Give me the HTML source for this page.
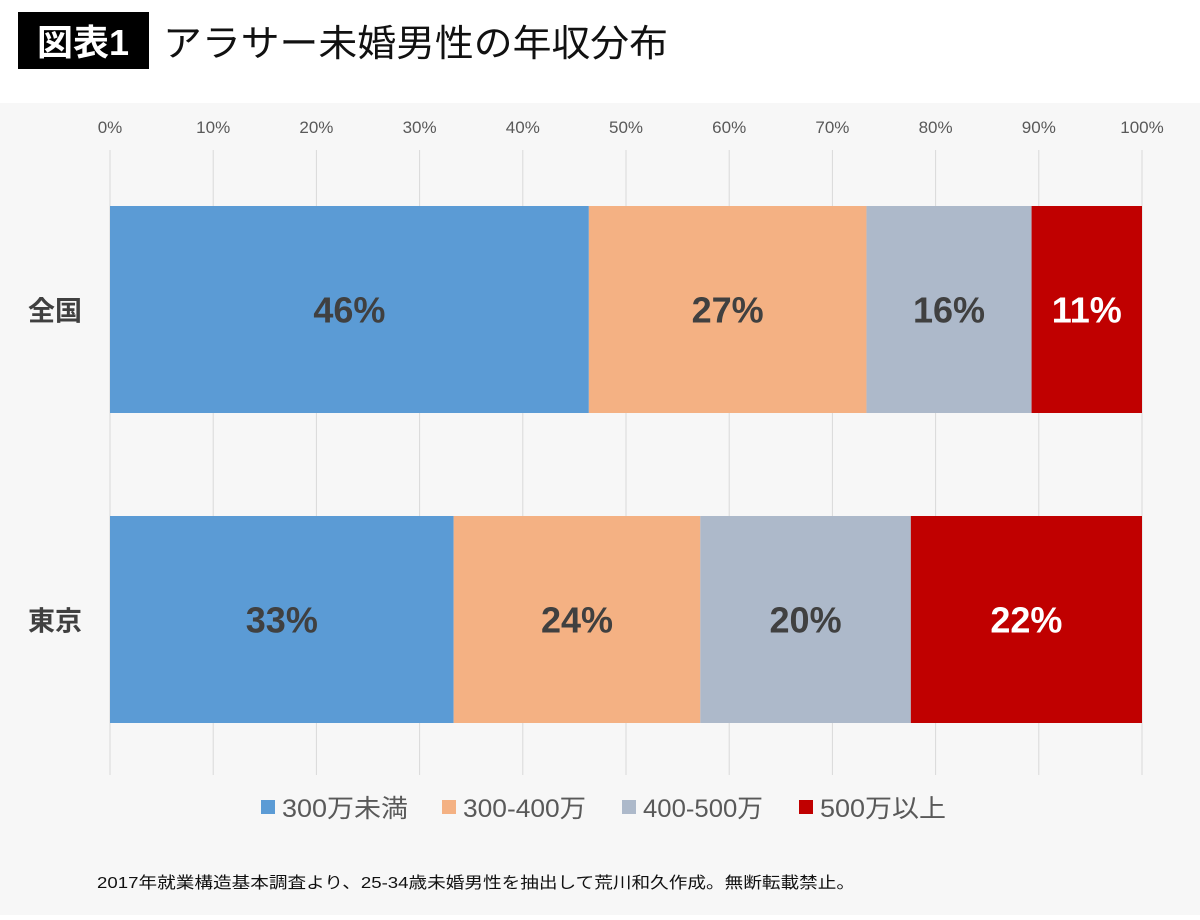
<!DOCTYPE html>
<html><head><meta charset="utf-8"><style>
body{margin:0;width:1200px;height:915px;background:#fff;overflow:hidden;font-family:"Liberation Sans","Noto Sans CJK JP",sans-serif;}
</style></head><body>
<svg width="1200" height="915" xmlns="http://www.w3.org/2000/svg" style="font-family:'Liberation Sans','Noto Sans CJK JP',sans-serif">
<rect x="0" y="103" width="1200" height="812" fill="#f7f7f7"/>
<rect x="18" y="12" width="131" height="57" fill="#000"/>
<text x="83" y="55" font-size="36" fill="#fff" text-anchor="middle" font-weight="bold">図表1</text>
<text x="163" y="56" font-size="37" fill="#111" textLength="505" lengthAdjust="spacingAndGlyphs">アラサー未婚男性の年収分布</text>
<g id="grid"></g><g id="bars"></g><g id="legend"></g>
<text x="97" y="888" font-size="16" fill="#111" textLength="758" lengthAdjust="spacingAndGlyphs">2017年就業構造基本調査より、25-34歳未婚男性を抽出して荒川和久作成。無断転載禁止。</text>
</svg>
<script>
const categories=["全国","東京"];
const s1=[46.4,33.3];
const s2=[26.9,23.9];
const s3=[16.0,20.4];
const s4=[10.7,22.4];
const labels1=["46%","33%"],labels2=["27%","24%"],labels3=["16%","20%"],labels4=["11%","22%"];
const seriesNames=["300万未満","300-400万","400-500万","500万以上"];
const ticks=[0,10,20,30,40,50,60,70,80,90,100];
const NS="http://www.w3.org/2000/svg";
const x=v=>110+v*10.32;
const yTop=i=>206+i*310;
const bh=207;
const colors=["#5b9bd5","#f4b183","#adb9ca","#c00000"];
const txtCol=["#404040","#404040","#404040","#fff"];
function mk(t,a,p){const e=document.createElementNS(NS,t);for(const k in a)e.setAttribute(k,a[k]);p.appendChild(e);return e;}
const g=document.getElementById('grid');
ticks.forEach(t=>{
 const l=mk('line',{x1:x(t),x2:x(t),y1:150,y2:775,stroke:'#d9d9d9','stroke-width':1},g);
 
 
 const tx=mk('text',{x:x(t),y:133,'font-size':17,fill:'#595959','text-anchor':'middle'},g);
 tx.textContent=t+'%';
 
 
});
const b=document.getElementById('bars');
const series=[s1,s2,s3,s4],labs=[labels1,labels2,labels3,labels4];
categories.forEach((c,i)=>{
 const ct=mk('text',{x:55,y:yTop(i)+bh/2+11,'font-size':27,'font-weight':'bold',fill:'#404040','text-anchor':'middle'},b);
 ct.textContent=c;
 
 
 let acc=0;
 series.forEach((s,j)=>{
  const r=mk('rect',{x:x(acc),y:yTop(i),width:x(acc+s[i])-x(acc),height:bh,fill:colors[j]},b);
  
  
  const t=mk('text',{x:(x(acc)+x(acc+s[i]))/2,y:yTop(i)+bh/2+13,'font-size':36,'font-weight':'bold',fill:txtCol[j],'text-anchor':'middle'},b);
  t.textContent=labs[j][i];
  
  
  acc+=s[i];
 });
});
const lg=document.getElementById('legend');
const lx=[261,442,622,799];
const lw=[126,123,120,126];
seriesNames.forEach((n,j)=>{
 const r=mk('rect',{x:lx[j],y:800,width:14,height:14,fill:colors[j]},lg);
 
 
 const t=mk('text',{x:lx[j]+21,y:817,'font-size':25,fill:'#595959',textLength:lw[j],lengthAdjust:'spacingAndGlyphs'},lg);
 t.textContent=n;
 
 
});
</script>
</body></html>
